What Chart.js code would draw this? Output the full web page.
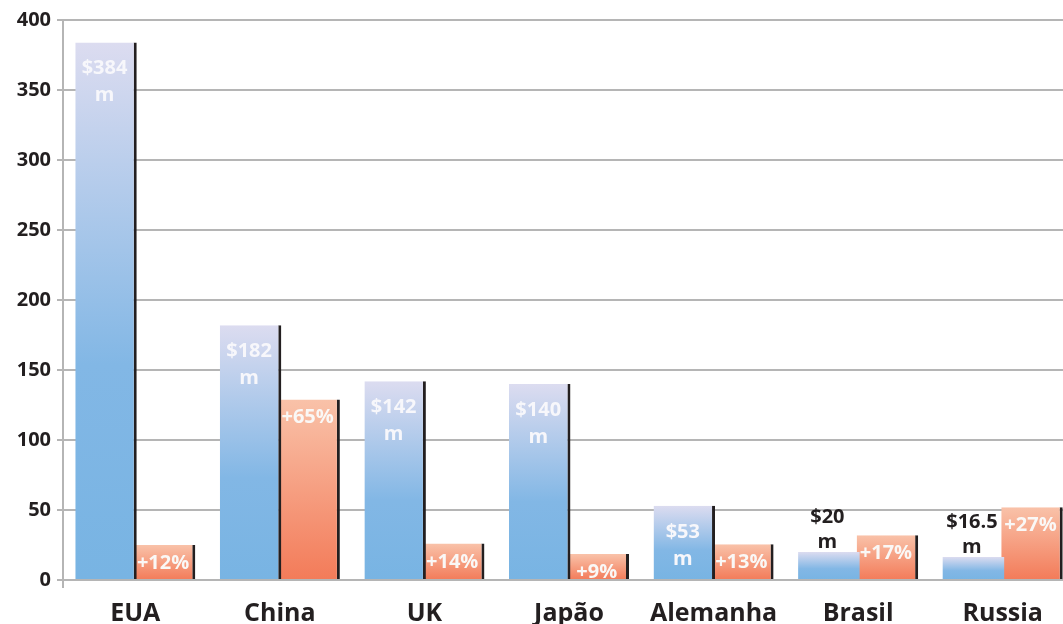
<!DOCTYPE html>
<html>
<head>
<meta charset="utf-8">
<script src="https://cdn.jsdelivr.net/npm/chart.js@4.4.0/dist/chart.umd.min.js"></script>
<style>
  html, body { margin: 0; padding: 0; background: #fff; overflow: hidden; }
  #wrap { width: 1063px; height: 624px; overflow: hidden; }
</style>
</head>
<body>
<div id="wrap"><canvas id="barChart" width="1075" height="624"></canvas></div>
<script>
const countries = ['EUA', 'China', 'UK', 'Japão', 'Alemanha', 'Brasil', 'Russia'];
// spending in $ millions
const spending = [384, 182, 142, 140, 53, 20, 16.5];
// growth bars (height on the same axis) and their labels
const growthBars = [25, 129, 26, 18.5, 25.5, 32, 52];
const growthLabels = ['+12%', '+65%', '+14%', '+9%', '+13%', '+17%', '+27%'];
const yMin = 0, yMax = 400, yStep = 50;

const FONT = '"Open Sans", "DejaVu Sans", sans-serif';
const INK = '#231f20';
const GRID = '#b5b5b5';

function gradientFill(stops, fallback) {
  return function (ctx) {
    const chart = ctx.chart;
    if (ctx.type !== 'data' || !chart.chartArea) return fallback;
    const y = chart.scales.y;
    const top = y.getPixelForValue(ctx.dataset.data[ctx.dataIndex]);
    const base = y.getPixelForValue(0);
    if (!isFinite(top) || base - top < 1) return fallback;
    const g = chart.ctx.createLinearGradient(0, top, 0, base);
    stops.forEach(s => g.addColorStop(s[0], s[1]));
    return g;
  };
}

const blueFill = gradientFill([[0, '#dcdcf0'], [0.6, '#82b7e5'], [1, '#78b4e3']], '#8fbde7');
const orangeFill = gradientFill([[0, '#f9c2a9'], [1, '#f37b59']], '#f59a7c');

// white labels inside the bars, dark ones above the short bars
const barLabels = {
  id: 'barLabels',
  afterDatasetsDraw(chart) {
    const c = chart.ctx;
    c.save();
    c.textAlign = 'center';
    c.textBaseline = 'alphabetic';
    c.font = 'bold 20px ' + FONT;
    chart.getDatasetMeta(0).data.forEach((bar, i) => {
      const x = bar.x - 1.5;
      const txt = '$' + spending[i];
      if (bar.base - bar.y > 60) {
        c.fillStyle = '#f7f7fb';
        c.fillText(txt, x, bar.y + 32);
        c.fillText('m', x, bar.y + 59);
      } else {
        c.fillStyle = INK;
        c.fillText(txt, x, bar.y - 29);
        c.fillText('m', x, bar.y - 4);
      }
    });
    c.fillStyle = '#faf8f6';
    chart.getDatasetMeta(1).data.forEach((bar, i) => {
      c.fillText(growthLabels[i], bar.x - 1.5, bar.y + 24);
    });
    c.restore();
  }
};

new Chart(document.getElementById('barChart'), {
  type: 'bar',
  data: {
    labels: countries,
    datasets: [
      {
        data: spending,
        backgroundColor: blueFill,
        borderColor: INK,
        borderWidth: spending.map(v => ({ top: 0, left: 0, bottom: 0, right: v > 30 ? 3 : 0 })),
        borderSkipped: false
      },
      {
        data: growthBars,
        backgroundColor: orangeFill,
        borderColor: INK,
        borderWidth: { top: 0, left: 0, bottom: 0, right: 3 },
        borderSkipped: false
      }
    ]
  },
  options: {
    responsive: false,
    animation: false,
    categoryPercentage: 0.81,
    barPercentage: 1.05,
    layout: { padding: { top: 20, left: 0, right: 0, bottom: 0 } },
    plugins: { legend: { display: false }, tooltip: { enabled: false } },
    scales: {
      x: {
        grid: {
          drawOnChartArea: false,
          tickLength: 8,
          lineWidth: 2,
          color: ctx => ctx.index === 0 ? GRID : 'rgba(0,0,0,0)'
        },
        border: { display: true, color: GRID, width: 2 },
        ticks: { color: INK, padding: 11, font: { family: FONT, size: 25, weight: 'bold' } },
        afterFit: s => { s.height = 44; }
      },
      y: {
        min: yMin,
        max: yMax,
        ticks: { stepSize: yStep, color: INK, padding: 6, font: { family: FONT, size: 20, weight: 'bold' } },
        grid: { color: GRID, lineWidth: 2, tickLength: 6 },
        border: { display: true, color: GRID, width: 2 },
        afterFit: s => { s.width = 63; }
      }
    }
  },
  plugins: [barLabels]
});
</script>
</body>
</html>
